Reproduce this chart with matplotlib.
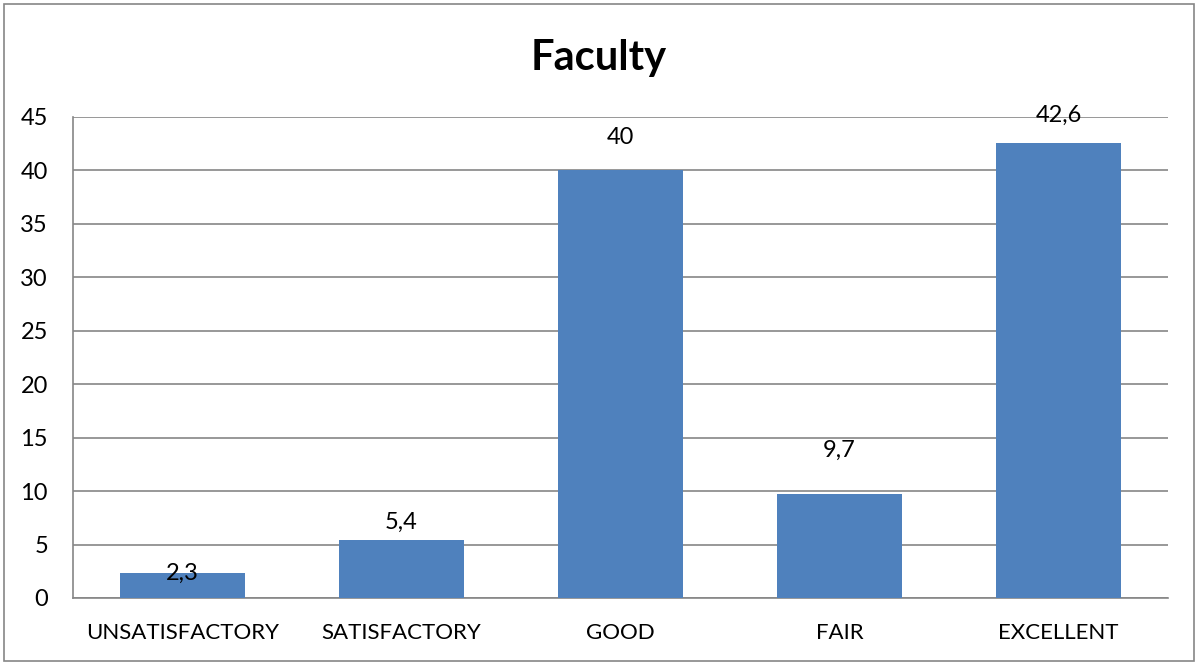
import matplotlib
matplotlib.use("Agg")
import matplotlib.pyplot as plt
from matplotlib.patches import Rectangle

categories = ["UNSATISFACTORY", "SATISFACTORY", "GOOD", "FAIR", "EXCELLENT"]
values = [2.3, 5.4, 40, 9.7, 42.6]
value_labels = ["2,3", "5,4", "40", "9,7", "42,6"]
label_offsets_pt = [0, 13, 24, 32, 20]
yticks = [0, 5, 10, 15, 20, 25, 30, 35, 40, 45]

plt.rcParams['font.family'] = ['Lato', 'DejaVu Sans']

fig = plt.figure(figsize=(11.98, 6.64), dpi=100)
ax = fig.add_axes([73/1198, 1-598/664, 1095/1198, (598-117)/664])

x = range(len(categories))
ax.bar(x, values, width=0.57, color="#4F81BD", zorder=3)
ax.set_xlim(-0.5, len(categories)-0.5)
ax.set_ylim(0, 45)
ax.set_yticks(yticks)
ax.set_yticklabels([str(t) for t in yticks], fontsize=17)
ax.set_xticks(list(x))
ax.set_xticklabels(categories, fontsize=16)
ax.tick_params(axis='both', length=0)
ax.tick_params(axis='x', pad=18)
ax.tick_params(axis='y', pad=18)
ax.yaxis.grid(True, color="#868686", linewidth=1.2, zorder=0)
for s in ["top", "right"]:
    ax.spines[s].set_visible(False)
for s in ["left", "bottom"]:
    ax.spines[s].set_color("#868686")
    ax.spines[s].set_linewidth(1.2)

for xi, v, lab, off in zip(x, values, value_labels, label_offsets_pt):
    ax.annotate(lab, (xi, v), xytext=(0, off), textcoords="offset points",
                ha="center", va="center", fontsize=17, zorder=5)

fig.text(0.5, 1-58/664, "Faculty", ha="center", va="center", fontsize=30, fontweight="bold")

fig.patches.append(Rectangle((4/1198, 3/664), 1-8/1198, 1-7/664, transform=fig.transFigure,
                             fill=False, edgecolor="#868686", linewidth=1.2))

fig.savefig("out.png", dpi=100)
